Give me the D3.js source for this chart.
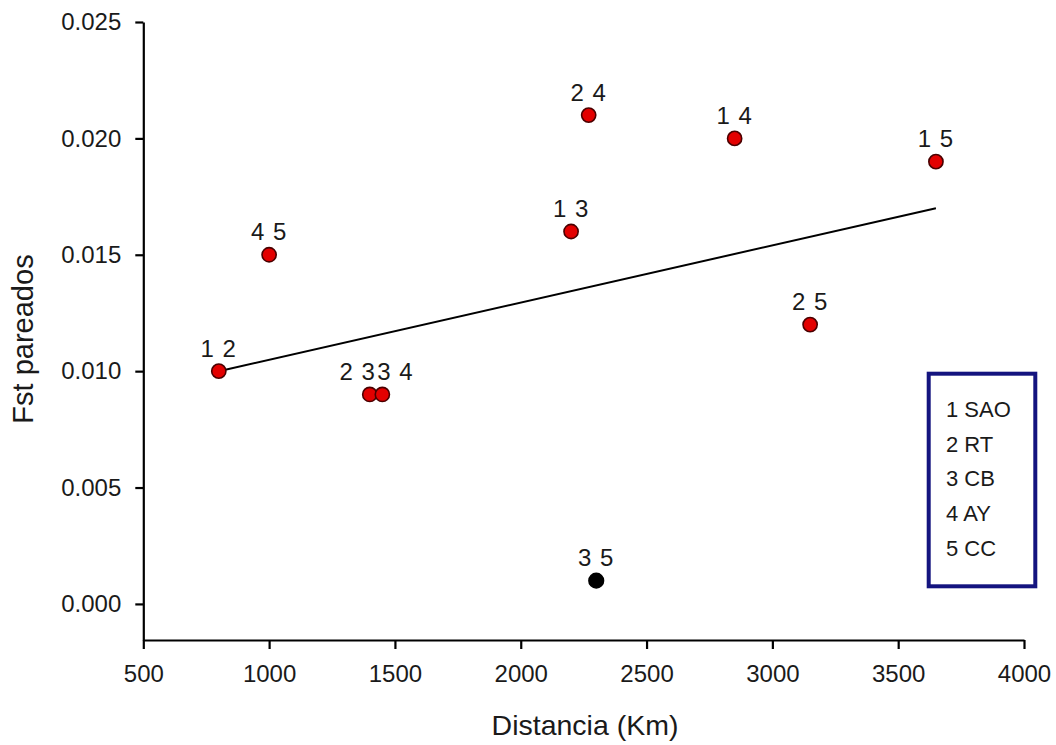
<!DOCTYPE html>
<html>
<head>
<meta charset="utf-8">
<script src="https://cdn.jsdelivr.net/npm/d3@7"></script>
<style>
  html, body { margin: 0; padding: 0; background: #fff; }
  svg { display: block; font-family: "Liberation Sans", Arial, sans-serif; }
</style>
</head>
<body>
<svg id="chart" width="1056" height="745"></svg>
<script>
// Pairwise Fst vs geographic distance between populations
const pairs     = ["1 2", "2 3", "3 4", "4 5", "1 3", "2 4", "1 4", "1 5", "2 5", "3 5"];
const distancia = [800, 1400, 1450, 1000, 2200, 2270, 2850, 3650, 3150, 2300];
const fst       = [0.010, 0.009, 0.009, 0.015, 0.016, 0.021, 0.020, 0.019, 0.012, 0.001];
const significant = [true, true, true, true, true, true, true, true, true, false];

// fitted trend line end points
const trendX = [800, 3650];
const trendY = [0.0100, 0.0170];

const legendItems = ["1 SAO", "2 RT", "3 CB", "4 AY", "5 CC"];

const xTicks = [500, 1000, 1500, 2000, 2500, 3000, 3500, 4000];
const yTicks = [0.000, 0.005, 0.010, 0.015, 0.020, 0.025];

const svg = d3.select("#chart");

const x = d3.scaleLinear().domain([500, 4000]).range([143.3, 1024]);
const y = d3.scaleLinear().domain([-0.00155, 0.025]).range([640, 22]);

// axes
const yAxis = svg.append("g")
  .attr("transform", "translate(143.3,0)")
  .call(d3.axisLeft(y).tickValues(yTicks).tickFormat(d3.format(".3f"))
    .tickSize(8).tickSizeOuter(0).tickPadding(14));

const xAxis = svg.append("g")
  .attr("transform", "translate(0,640)")
  .call(d3.axisBottom(x).tickValues(xTicks).tickFormat(d3.format("d"))
    .tickSize(9).tickSizeOuter(0).tickPadding(16));

[xAxis, yAxis].forEach(g => {
  g.selectAll("path.domain").attr("stroke", "#000").attr("stroke-width", 2.2);
  g.selectAll(".tick line").attr("stroke", "#000").attr("stroke-width", 2.2);
  g.selectAll(".tick text")
    .attr("fill", "#1a1a1a")
    .style("font-size", "24px")
    .style("font-family", "\"Liberation Sans\", Arial, sans-serif");
});

// axis titles
svg.append("text")
  .attr("x", 585).attr("y", 735)
  .attr("text-anchor", "middle")
  .style("font-size", "28.5px")
  .attr("fill", "#1a1a1a")
  .text("Distancia (Km)");

svg.append("text")
  .attr("transform", "translate(33,339) rotate(-90)")
  .attr("text-anchor", "middle")
  .style("font-size", "29px")
  .attr("fill", "#1a1a1a")
  .text("Fst pareados");

// trend line
svg.append("line")
  .attr("x1", x(trendX[0])).attr("y1", y(trendY[0]))
  .attr("x2", x(trendX[1])).attr("y2", y(trendY[1]))
  .attr("stroke", "#000").attr("stroke-width", 2);

// points
const pts = pairs.map((p, i) => ({ p, d: distancia[i], f: fst[i], sig: significant[i] }));

svg.append("g").selectAll("circle")
  .data(pts)
  .join("circle")
  .attr("cx", d => x(d.d))
  .attr("cy", d => y(d.f))
  .attr("r", d => d.sig ? 7.1 : 7.3)
  .attr("fill", d => d.sig ? "#e30000" : "#000")
  .attr("stroke", d => d.sig ? "#4a0000" : "#000")
  .attr("stroke-width", 1.6);

// point labels; overlapping pairs nudged apart horizontally
const labelNudge = { "2 3": -12, "3 4": 13 };
svg.append("g").selectAll("text")
  .data(pts)
  .join("text")
  .attr("x", d => x(d.d) + (labelNudge[d.p] || 0))
  .attr("y", d => y(d.f) - 14.5)
  .attr("text-anchor", "middle")
  .style("font-size", "24px")
  .style("letter-spacing", "1px")
  .attr("fill", "#1a1a1a")
  .text(d => d.p);

// legend box
const legend = svg.append("g");
legend.append("rect")
  .attr("x", 928.7).attr("y", 373.7)
  .attr("width", 106.6).attr("height", 212.6)
  .attr("fill", "#fff")
  .attr("stroke", "#14147f")
  .attr("stroke-width", 4);

legend.selectAll("text")
  .data(legendItems)
  .join("text")
  .attr("x", 946)
  .attr("y", (d, i) => 417 + i * 34.7)
  .style("font-size", "22px")
  .attr("fill", "#1a1a1a")
  .text(d => d);
</script>
</body>
</html>
